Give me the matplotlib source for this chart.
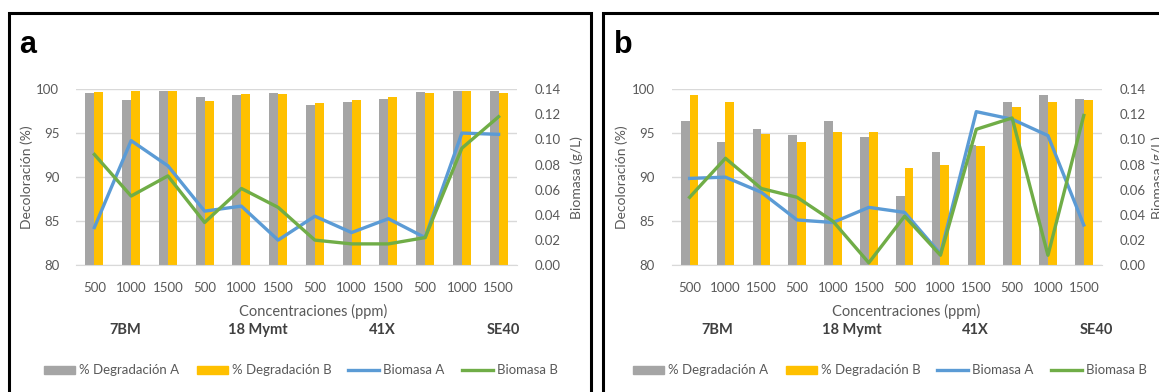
import numpy as np
import matplotlib
matplotlib.use("Agg")
import matplotlib.pyplot as plt
from matplotlib.patches import Rectangle, Patch
from matplotlib.lines import Line2D

plt.rcParams['font.family'] = ['Lato', 'DejaVu Sans']

conc_labels = ["500", "1000", "1500"] * 4
strains = ["7BM", "18 Mymt", "41X", "SE40"]

# panel a
deg_a_1 = [99.5, 98.8, 99.8, 99.1, 99.3, 99.5, 98.2, 98.5, 98.9, 99.7, 99.8, 99.8]
deg_b_1 = [99.7, 99.8, 99.8, 98.6, 99.4, 99.4, 98.4, 98.8, 99.1, 99.5, 99.8, 99.6]
bio_a_1 = [0.030, 0.099, 0.079, 0.043, 0.047, 0.020, 0.039, 0.026, 0.037, 0.022, 0.105, 0.104]
bio_b_1 = [0.088, 0.055, 0.071, 0.034, 0.061, 0.046, 0.020, 0.017, 0.017, 0.022, 0.093, 0.118]

# panel b
deg_a_2 = [96.4, 94.0, 95.5, 94.8, 96.4, 94.6, 87.9, 92.8, 93.6, 98.5, 99.3, 98.9]
deg_b_2 = [99.3, 98.5, 94.9, 94.0, 95.1, 95.1, 91.0, 91.4, 93.5, 98.0, 98.5, 98.8]
bio_a_2 = [0.069, 0.070, 0.058, 0.036, 0.034, 0.046, 0.042, 0.009, 0.122, 0.116, 0.103, 0.032]
bio_b_2 = [0.054, 0.085, 0.061, 0.054, 0.035, 0.002, 0.039, 0.008, 0.108, 0.117, 0.008, 0.119]

GREY = "#A5A5A5"
YELLOW = "#FFC000"
BLUE = "#5B9BD5"
GREEN = "#70AD47"
TXT = "#595959"

W, H = 1159, 392
fig = plt.figure(figsize=(W / 100, H / 100), dpi=100)


def px(x, y):
    return x / W, 1 - y / H


panels = [
    dict(letter="a", frame=(8.5, 13), left=76, right=517, data=(deg_a_1, deg_b_1, bio_a_1, bio_b_1),
         ylab_x=27, rlab_x=577, xlab_x=313, grp_x=[125, 258, 382, 503], leg_x=301),
    dict(letter="b", frame=(603, 13), left=671.7, right=1101.7, data=(deg_a_2, deg_b_2, bio_a_2, bio_b_2),
         ylab_x=622, rlab_x=1158, xlab_x=906, grp_x=[717, 852, 975, 1096], leg_x=890),
]

top, bottom = 89, 265.3
x = np.arange(len(conc_labels))
bw = 0.245

for p in panels:
    da, db, ba, bb = p["data"]
    l, b_ = px(p["left"], bottom)
    ax = fig.add_axes([l, b_, (p["right"] - p["left"]) / W, (bottom - top) / H])
    ax.bar(x - bw / 2, da, bw, color=GREY, zorder=2)
    ax.bar(x + bw / 2, db, bw, color=YELLOW, zorder=2)
    ax.set_ylim(80, 100)
    ax.set_xlim(-0.5, len(x) - 0.5)
    ax.set_yticks([80, 85, 90, 95, 100])
    ax.set_xticks(x)
    ax.set_xticklabels(conc_labels)
    ax.grid(axis="y", color="#D9D9D9", lw=1, zorder=0)
    for s in ["left", "right", "top"]:
        ax.spines[s].set_visible(False)
    ax.spines["bottom"].set_color("#D9D9D9")
    ax.tick_params(length=0, labelsize=9.5, colors=TXT)
    ax.tick_params(axis="x", pad=12)
    ax.tick_params(axis="y", pad=12)

    ax2 = ax.twinx()
    ax2.plot(x, ba, color=BLUE, lw=2.4, zorder=3)
    ax2.plot(x, bb, color=GREEN, lw=2.4, zorder=3)
    ax2.set_ylim(0, 0.14)
    ax2.set_yticks(np.arange(0, 0.141, 0.02))
    ax2.set_yticklabels([f"{v:.2f}" for v in np.arange(0, 0.141, 0.02)])
    for s in ax2.spines.values():
        s.set_visible(False)
    ax2.tick_params(length=0, labelsize=9.5, colors=TXT, pad=13)

    fig.text(*px(p["ylab_x"], (top + bottom) / 2), "Decoloración (%)", rotation=90,
             ha="center", va="center", fontsize=10, color=TXT)
    fig.text(*px(p["rlab_x"], (top + bottom) / 2), "Biomasa (g/L)", rotation=90,
             ha="center", va="center", fontsize=10, color=TXT)
    fig.text(*px(p["xlab_x"], 311.5), "Concentraciones (ppm)", ha="center", va="center",
             fontsize=10.5, color=TXT)
    for name, gx in zip(strains, p["grp_x"]):
        fig.text(*px(gx, 330), name, ha="center", va="center", fontsize=10.5,
                 fontweight="bold", color="#404040")

    fx, fy = p["frame"]
    fig.text(*px(fx + 11, 45), p["letter"], ha="left", va="center", fontsize=22,
             fontweight="bold", color="black", family="Liberation Sans")
    fig.patches.append(Rectangle(px(fx, H + 20), (590.5 - 8.5) / W if p["letter"] == "a" else 0.6,
                                 (H + 20 - fy) / H, transform=fig.transFigure, fill=False,
                                 edgecolor="black", lw=2.2, clip_on=False))

    handles = [Patch(color=GREY), Patch(color=YELLOW),
               Line2D([], [], color=BLUE, lw=2.4), Line2D([], [], color=GREEN, lw=2.4)]
    fig.legend(handles, ["% Degradación A", "% Degradación B", "Biomasa A", "Biomasa B"],
               loc="center", bbox_to_anchor=px(p["leg_x"], 370.5), ncol=4, frameon=False,
               fontsize=9.5, labelcolor=TXT, handlelength=2.35, handleheight=0.6,
               handletextpad=0.3, columnspacing=1.3, borderpad=0)

fig.savefig("out.png", dpi=100)
